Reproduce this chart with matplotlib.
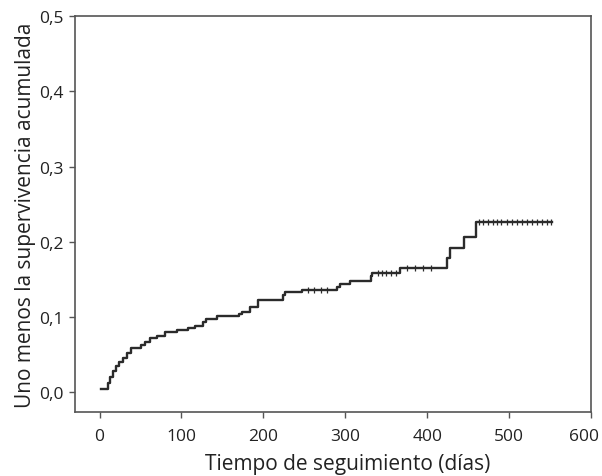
import matplotlib
matplotlib.use("Agg")
import matplotlib.pyplot as plt
import matplotlib.transforms as mtransforms

# Curva de incidencia acumulada (1 - supervivencia)
tiempo = [2, 10, 13, 16, 20, 24, 28, 33, 38, 51, 56, 61, 70, 80, 95, 108, 116,
          126, 130, 143, 170, 174, 184, 194, 224, 227, 247, 290, 294, 306, 331,
          333, 367, 424, 428, 445, 459, 553]
valores = [0.005, 0.012, 0.020, 0.028, 0.035, 0.040, 0.046, 0.052, 0.059, 0.063,
           0.067, 0.072, 0.075, 0.080, 0.083, 0.085, 0.088, 0.094, 0.097, 0.101,
           0.104, 0.107, 0.113, 0.123, 0.129, 0.133, 0.136, 0.140, 0.144, 0.148,
           0.155, 0.159, 0.165, 0.178, 0.192, 0.206, 0.227, 0.227]

# Observaciones censuradas (marcas verticales)
censura_t = [255, 262, 270, 278, 340, 345, 350, 356, 362, 375, 385, 395, 405,
             463, 468, 474, 480, 485, 490, 497, 503, 510, 516, 522, 528, 534,
             540, 546, 551]
censura_v = [0.136, 0.136, 0.136, 0.136, 0.159, 0.159, 0.159, 0.159, 0.159,
             0.165, 0.165, 0.165, 0.165,
             0.227, 0.227, 0.227, 0.227, 0.227, 0.227, 0.227, 0.227, 0.227,
             0.227, 0.227, 0.227, 0.227, 0.227, 0.227, 0.227]

xticks = [0, 100, 200, 300, 400, 500, 600]
yticks = [0.0, 0.1, 0.2, 0.3, 0.4, 0.5]
yticklabels = ["0,0", "0,1", "0,2", "0,3", "0,4", "0,5"]

plt.rcParams["font.family"] = ["Open Sans", "DejaVu Sans"]

fig = plt.figure(figsize=(6.02, 4.77), dpi=100)
ax = fig.add_axes([0.1246, 0.1342, 0.8571, 0.8302])

ax.plot(tiempo, valores, drawstyle="steps-post", color="#2b2b2b", lw=1.7)
ax.plot(censura_t, censura_v, ls="none", marker="|", ms=4, mew=0.9,
        color="#2b2b2b")

ax.set_xlim(-30, 600)
ax.set_ylim(-0.026, 0.5)
ax.set_xticks(xticks)
ax.set_xticklabels([str(t) for t in xticks])
ax.set_yticks(yticks)
ax.set_yticklabels(yticklabels)

for s in ax.spines.values():
    s.set_color("#555555")
    s.set_linewidth(1.2)
ax.tick_params(direction="out", length=4.5, width=1, color="#555555",
               labelsize=12.5, labelcolor="#222222")
ax.tick_params(axis="x", pad=7)
ax.tick_params(axis="y", pad=4)

# la etiqueta "600" queda desplazada a la izquierda como en el original
ultimo = ax.get_xticklabels()[-1]
ultimo.set_transform(ultimo.get_transform() +
                     mtransforms.ScaledTranslation(-7 / 100, 0, fig.dpi_scale_trans))

ax.set_xlabel("Tiempo de seguimiento (días)", fontsize=15, color="#222222")
ax.xaxis.set_label_coords(0.529, -0.103)
ax.set_ylabel("Uno menos la supervivencia acumulada", fontsize=15,
              color="#222222", labelpad=2)

fig.savefig("out.png", dpi=100)
